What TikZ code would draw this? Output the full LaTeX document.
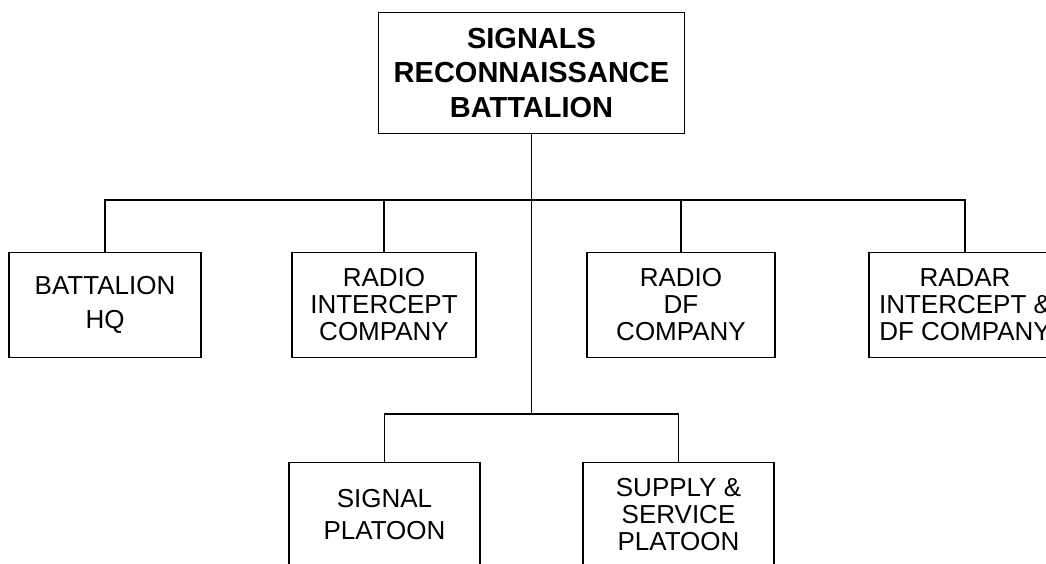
\documentclass[tikz,border=0pt]{standalone}
\usepackage{fontspec}
\setmainfont{Liberation Sans}
\usepackage{xcolor}
\usepackage{tikz}
\usetikzlibrary{positioning}
\tikzstyle{unitbox} = [rectangle, draw=black, fill=white, line width=1.5pt, minimum width=188pt,
  minimum height=105pt, align=center, inner sep=0pt, font=\fontsize{26}{27}\selectfont]
\tikzstyle{battbox} = [rectangle, draw=black, fill=white, line width=1.5pt, minimum width=306pt,
  minimum height=121pt, align=center, inner sep=0pt, font=\fontsize{29}{34.5}\selectfont\bfseries]
\tikzstyle{link} = [line width=1.5pt]

\begin{document}
\begin{tikzpicture}[x=1pt, y=-1pt]
  \clip (0,0) rectangle (1046,563);
  \node (batt) [battbox] at (531.5,73) {SIGNALS\\RECONNAISSANCE\\BATTALION};
  \node (hq)   [unitbox, minimum width=192pt] at (105,305) {BATTALION\\[7pt]HQ};
  \node (ric)  [unitbox, minimum width=184pt] at (384,305) {RADIO\\INTERCEPT\\COMPANY};
  \node (rdf)  [unitbox] at (681,305) {RADIO\\DF\\COMPANY};
  \node (rad)  [unitbox, minimum width=192pt] at (965,305) {RADAR\\INTERCEPT \&\\DF COMPANY};
  \node (sig)  [unitbox, minimum width=191pt] at (384.5,515) {SIGNAL\\[5pt]PLATOON};
  \node (sup)  [unitbox, minimum width=191pt] at (678.5,515) {SUPPLY \&\\SERVICE\\PLATOON};

  \coordinate (split) at (batt.south |- 0,200);
  \coordinate (split2) at (batt.south |- 0,414);

  \draw[link] (batt.south)--(split2);
  \draw[link] (split) -| (hq.north);
  \draw[link] (split) -| (ric.north);
  \draw[link] (split) -| (rdf.north);
  \draw[link] (split) -| (rad.north);
  \draw[link] (split2) -| (sig.north);
  \draw[link] (split2) -| (sup.north);
\end{tikzpicture}
\end{document}
